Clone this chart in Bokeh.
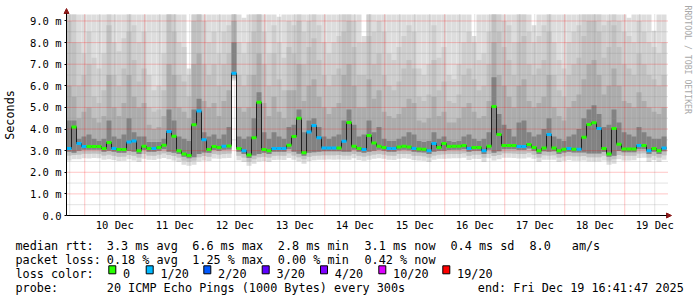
import math
from bokeh.plotting import figure
from bokeh.models import (FixedTicker, Range1d, Label, Arrow, NormalHead)
from bokeh.core.properties import value
from bokeh.embed import file_html
from bokeh.resources import INLINE

# ---- time axis: hours since 9 Dec 00:00 ----
start_h = 16.7      # 9 Dec 16:41:47
end_h = 256.7       # 19 Dec 16:41:47
step_h = 2.0        # consolidated step shown per column

day_labels = ["10 Dec", "11 Dec", "12 Dec", "13 Dec", "14 Dec",
              "15 Dec", "16 Dec", "17 Dec", "18 Dec", "19 Dec"]
y_labels = ["0.0", "1.0 m", "2.0 m", "3.0 m", "4.0 m", "5.0 m",
            "6.0 m", "7.0 m", "8.0 m", "9.0 m"]

# ---- median rtt (ms) per column ----
median_ms = [3.10, 4.10, 3.33, 3.19, 3.19, 3.19, 3.19, 3.10, 3.38, 3.10,
             3.05, 3.05, 3.40, 3.45, 3.00, 3.20, 3.10, 3.10, 3.15, 3.25,
             3.89, 3.67, 3.00, 2.85, 2.78, 4.20, 4.83, 3.50, 3.05, 3.19,
             3.15, 3.20, 3.22, 6.58, 3.10, 3.00, 2.80, 3.60, 5.24, 3.05,
             3.00, 3.10, 3.10, 3.10, 3.25, 3.65, 4.50, 2.90, 3.86, 4.16,
             3.60, 3.12, 3.12, 3.12, 3.12, 3.44, 4.30, 3.20, 3.10, 3.05,
             3.70, 3.35, 3.20, 3.15, 3.10, 3.10, 3.17, 3.20, 3.17, 3.10,
             3.08, 3.06, 3.00, 3.33, 3.15, 3.33, 3.19, 3.20, 3.20, 3.24,
             3.10, 3.15, 3.15, 3.00, 3.20, 5.04, 3.75, 3.24, 3.24, 3.24,
             3.19, 3.19, 3.29, 3.15, 3.00, 3.12, 3.75, 3.12, 3.00, 3.06,
             3.10, 3.06, 3.06, 3.62, 4.21, 4.29, 4.02, 3.10, 2.85, 4.02,
             3.30, 3.08, 3.08, 3.08, 3.24, 3.24, 3.00, 3.10, 3.00, 3.12]

# ---- lost pings per column (out of 20) ----
loss_count = [1, 0, 1, 1, 0, 0, 0, 0, 0, 1,
              0, 0, 1, 1, 0, 0, 0, 1, 0, 0,
              1, 0, 0, 0, 0, 0, 1, 1, 0, 0,
              0, 1, 0, 1, 0, 1, 0, 0, 0, 0,
              0, 1, 1, 1, 0, 0, 0, 0, 1, 1,
              1, 1, 1, 1, 0, 1, 0, 0, 0, 1,
              0, 0, 0, 0, 1, 1, 0, 0, 0, 1,
              0, 0, 1, 1, 0, 0, 0, 0, 0, 0,
              1, 0, 0, 1, 0, 0, 0, 0, 0, 0,
              1, 1, 0, 0, 0, 0, 1, 0, 0, 0,
              1, 0, 1, 0, 0, 0, 1, 0, 0, 0,
              0, 0, 0, 0, 1, 0, 1, 0, 0, 1]

# ---- smoke: lower ping levels (ms) ----
lo1 = [2.55, 2.60, 2.60, 2.65, 2.64, 2.66, 2.65, 2.58, 2.60, 2.57,
       2.52, 2.53, 2.60, 2.55, 2.48, 2.62, 2.58, 2.57, 2.62, 2.66,
       2.60, 2.55, 2.48, 2.35, 2.30, 2.35, 2.50, 2.55, 2.52, 2.64,
       2.62, 2.65, 2.66, 6.25, 2.56, 2.48, 2.30, 2.40, 2.50, 2.52,
       2.48, 2.57, 2.58, 2.57, 2.66, 2.58, 2.50, 2.40, 2.52, 2.56,
       2.58, 2.58, 2.59, 2.58, 2.59, 2.58, 2.58, 2.65, 2.57, 2.53,
       2.58, 2.62, 2.65, 2.62, 2.58, 2.57, 2.63, 2.65, 2.63, 2.57,
       2.55, 2.53, 2.48, 2.58, 2.62, 2.62, 2.64, 2.65, 2.65, 2.67,
       2.57, 2.62, 2.61, 2.48, 2.65, 2.55, 2.60, 2.67, 2.67, 2.66,
       2.64, 2.64, 2.68, 2.62, 2.48, 2.58, 2.58, 2.58, 2.48, 2.53,
       2.57, 2.53, 2.53, 2.55, 2.50, 2.50, 2.50, 2.55, 2.35, 2.40,
       2.60, 2.55, 2.55, 2.56, 2.66, 2.67, 2.48, 2.57, 2.48, 2.58]
lo2 = [2.78, 2.80, 2.82, 2.86, 2.86, 2.87, 2.86, 2.78, 2.82, 2.77,
       2.72, 2.73, 2.80, 2.76, 2.68, 2.84, 2.78, 2.77, 2.82, 2.88,
       2.80, 2.75, 2.68, 2.55, 2.50, 2.55, 2.70, 2.75, 2.72, 2.85,
       2.82, 2.85, 2.87, 6.35, 2.77, 2.68, 2.50, 2.60, 2.70, 2.72,
       2.68, 2.77, 2.78, 2.77, 2.88, 2.78, 2.70, 2.60, 2.72, 2.76,
       2.78, 2.79, 2.79, 2.79, 2.80, 2.78, 2.78, 2.85, 2.77, 2.73,
       2.78, 2.82, 2.85, 2.82, 2.78, 2.77, 2.84, 2.85, 2.84, 2.77,
       2.76, 2.74, 2.68, 2.78, 2.82, 2.83, 2.85, 2.85, 2.85, 2.88,
       2.77, 2.82, 2.82, 2.68, 2.85, 2.75, 2.80, 2.88, 2.88, 2.87,
       2.85, 2.85, 2.90, 2.82, 2.68, 2.79, 2.78, 2.79, 2.68, 2.74,
       2.77, 2.74, 2.74, 2.75, 2.70, 2.70, 2.70, 2.76, 2.55, 2.60,
       2.80, 2.76, 2.76, 2.76, 2.87, 2.88, 2.68, 2.77, 2.68, 2.79]
lo3 = [2.95, 2.90, 3.00, 3.04, 3.04, 3.04, 3.04, 2.95, 3.00, 2.95,
       2.90, 2.90, 2.98, 2.95, 2.85, 3.03, 2.95, 2.95, 3.00, 3.06,
       2.95, 2.90, 2.85, 2.72, 2.65, 2.70, 2.85, 2.92, 2.90, 3.03,
       3.00, 3.04, 3.05, 6.45, 2.95, 2.85, 2.66, 2.78, 2.85, 2.90,
       2.85, 2.95, 2.95, 2.95, 3.06, 2.95, 2.86, 2.76, 2.90, 2.93,
       2.95, 2.97, 2.97, 2.97, 2.97, 2.95, 2.95, 3.04, 2.95, 2.90,
       2.95, 3.00, 3.04, 3.00, 2.95, 2.95, 3.02, 3.04, 3.02, 2.95,
       2.93, 2.91, 2.85, 2.95, 3.00, 3.00, 3.03, 3.04, 3.04, 3.07,
       2.95, 3.00, 3.00, 2.85, 3.04, 2.90, 2.97, 3.07, 3.07, 3.06,
       3.03, 3.03, 3.10, 3.00, 2.85, 2.97, 2.95, 2.97, 2.85, 2.91,
       2.95, 2.91, 2.91, 2.92, 2.87, 2.87, 2.87, 2.94, 2.72, 2.77,
       2.98, 2.93, 2.93, 2.93, 3.06, 3.07, 2.85, 2.95, 2.85, 2.97]

# ---- smoke: upper ping levels (ms) ----
hi1 = [4.4, 4.4, 3.55, 3.65, 3.75, 3.55, 3.45, 3.55, 4.4, 3.65,
       3.55, 3.75, 4.5, 3.85, 3.65, 3.65, 3.4, 3.4, 3.4, 3.55,
       4.9, 4.4, 3.65, 3.55, 3.45, 4.9, 5.4, 3.85, 3.65, 3.75,
       3.55, 3.75, 4.1, 8.0, 3.65, 3.55, 3.65, 4.5, 5.7, 3.85,
       3.55, 3.85, 3.65, 3.55, 4.1, 4.2, 4.9, 3.85, 4.4, 4.5,
       4.1, 3.65, 3.55, 3.65, 3.75, 4.4, 4.9, 4.2, 3.65, 3.75,
       4.4, 3.85, 4.1, 3.55, 3.45, 3.45, 3.55, 3.65, 3.85, 3.75,
       3.45, 3.4, 3.45, 3.85, 3.55, 3.65, 3.45, 3.4, 3.45, 3.65,
       3.75, 3.55, 3.45, 3.55, 3.85, 6.4, 4.7, 4.2, 4.0, 3.65,
       4.3, 4.4, 3.85, 3.65, 3.75, 4.0, 4.5, 3.65, 3.55, 3.45,
       3.65, 3.75, 4.0, 4.5, 4.9, 5.1, 4.7, 4.1, 4.2, 4.9,
       4.3, 3.85, 3.75, 3.65, 4.1, 3.85, 3.65, 3.55, 3.55, 3.65]
hi2 = [6.0, 5.5, 4.5, 4.8, 5.0, 4.5, 4.3, 4.6, 6.5, 5.0,
       4.6, 5.2, 6.5, 5.5, 5.0, 5.2, 4.2, 4.0, 4.1, 4.6,
       7.0, 6.5, 5.0, 4.8, 4.5, 7.0, 7.5, 5.3, 5.0, 5.2,
       4.6, 5.3, 5.8, 9.0, 5.0, 4.8, 5.0, 6.5, 7.5, 5.2,
       4.6, 5.5, 4.8, 4.5, 5.8, 5.8, 7.0, 5.3, 6.0, 6.3,
       5.5, 5.0, 4.7, 5.0, 5.2, 6.5, 7.0, 6.0, 5.0, 5.0,
       6.3, 5.4, 5.8, 4.8, 4.6, 4.5, 4.7, 5.0, 5.4, 5.2,
       4.4, 4.3, 4.5, 5.5, 4.6, 4.8, 4.3, 4.3, 4.5, 5.0,
       5.2, 4.8, 4.5, 4.6, 5.3, 8.0, 6.5, 6.0, 5.5, 5.0,
       6.0, 6.3, 5.3, 5.0, 5.2, 5.5, 6.5, 5.0, 4.6, 4.4,
       5.0, 5.3, 5.6, 6.3, 7.0, 7.2, 6.5, 5.6, 6.0, 6.8,
       6.0, 5.3, 5.2, 5.0, 5.7, 5.3, 5.0, 4.8, 4.7, 5.0]
hi3 = [9.0, 8.0, 6.0, 6.5, 7.0, 5.5, 5.2, 5.8, 8.8, 6.5,
       6.0, 6.8, 8.5, 7.2, 6.2, 6.8, 5.0, 4.8, 4.9, 5.8,
       9.3, 8.5, 6.5, 6.2, 5.5, 9.0, 9.3, 7.0, 6.5, 7.0,
       6.0, 7.0, 7.5, 9.3, 6.5, 6.0, 6.5, 8.5, 9.3, 7.0,
       6.0, 7.5, 6.3, 5.8, 7.8, 7.5, 9.0, 7.0, 7.8, 8.2,
       7.2, 6.5, 6.0, 6.5, 6.8, 8.5, 9.0, 7.8, 6.5, 6.5,
       8.3, 7.0, 7.5, 6.5, 6.0, 5.8, 6.2, 6.8, 7.2, 6.8,
       5.5, 5.3, 5.6, 7.2, 5.8, 6.2, 5.3, 5.2, 5.6, 6.5,
       6.8, 6.3, 5.8, 6.0, 7.0, 9.3, 8.5, 7.8, 7.2, 6.5,
       8.0, 8.3, 7.0, 6.5, 6.8, 7.2, 8.5, 6.5, 5.8, 5.5,
       6.5, 7.0, 7.3, 8.3, 9.0, 9.0, 8.5, 7.3, 7.8, 8.8,
       7.8, 7.0, 6.8, 6.5, 7.5, 7.0, 6.5, 6.3, 6.0, 6.5]
hi4 = [9.3, 9.3, 8.0, 7.5, 8.5, 7.3, 6.8, 7.5, 9.3, 8.0,
       7.6, 8.2, 9.3, 8.8, 8.0, 8.5, 6.5, 5.8, 6.0, 7.5,
       9.3, 9.3, 8.0, 7.8, 6.5, 9.3, 9.3, 9.0, 8.0, 8.5,
       7.5, 8.5, 8.8, 9.3, 8.0, 7.5, 8.0, 9.3, 9.3, 8.5,
       7.5, 8.8, 8.0, 7.3, 9.0, 8.8, 9.3, 8.5, 9.0, 9.3,
       8.8, 8.0, 7.5, 8.0, 8.3, 9.3, 9.3, 9.0, 8.0, 8.0,
       9.3, 8.5, 9.0, 8.5, 7.5, 7.2, 7.8, 8.3, 8.8, 8.5,
       6.8, 6.5, 7.0, 8.8, 7.3, 7.8, 6.5, 6.3, 7.0, 8.0,
       8.5, 8.0, 7.2, 7.5, 8.5, 9.3, 9.3, 9.0, 8.8, 8.0,
       9.3, 9.3, 8.5, 8.0, 8.3, 8.8, 9.3, 8.0, 7.2, 6.8,
       8.0, 8.5, 8.8, 9.3, 9.3, 9.3, 9.3, 8.8, 9.0, 9.3,
       9.0, 8.5, 8.3, 8.0, 9.0, 8.5, 8.0, 7.8, 7.5, 8.0]
top_ms = [9.3, 9.3, 9.3, 9.3, 9.3, 9.3, 9.3, 9.3, 9.3, 9.3,
          9.3, 9.3, 9.3, 9.3, 9.3, 9.3, 9.3, 9.3, 9.3, 9.3,
          9.3, 9.3, 9.3, 9.3, 6.8, 9.3, 9.3, 9.3, 9.3, 9.3,
          9.3, 9.3, 9.3, 9.3, 9.3, 9.15, 9.3, 9.3, 9.3, 9.3,
          9.3, 9.3, 9.2, 9.3, 9.3, 9.3, 9.3, 9.3, 9.3, 9.3,
          9.3, 9.3, 9.3, 9.3, 9.3, 9.3, 9.3, 9.3, 9.3, 8.3,
          9.3, 9.3, 9.3, 9.3, 9.3, 9.3, 9.3, 9.3, 9.3, 9.3,
          9.3, 9.3, 9.3, 9.3, 9.3, 9.3, 9.3, 9.3, 9.3, 9.3,
          9.3, 8.3, 9.3, 9.3, 9.3, 9.3, 9.3, 9.3, 9.3, 9.3,
          9.3, 9.3, 9.3, 8.8, 9.3, 9.3, 9.3, 9.3, 9.3, 9.3,
          9.3, 9.3, 9.3, 9.3, 9.3, 9.3, 9.3, 9.3, 9.3, 9.3,
          9.3, 9.3, 9.15, 9.3, 9.3, 9.3, 9.3, 8.55, 9.3, 9.3]

# ---- legend texts ----
loss_labels = ["0", "1/20", "2/20", "3/20", "4/20", "10/20", "19/20"]
loss_colors = ["#26ff00", "#00b8ff", "#0059ff", "#5e00ff", "#7e00ff", "#dd00ff", "#ff0000"]
rtt_parts = ["median rtt:", "3.3 ms avg", "6.6 ms max", "2.8 ms min", "3.1 ms now",
             "0.4 ms sd", "8.0", "am/s"]
loss_parts = ["packet loss:", "0.18 % avg", "1.25 % max", "0.00 % min", "0.42 % now"]
probe_parts = ["probe:", "20 ICMP Echo Pings (1000 Bytes) every 300s",
               "end: Fri Dec 19 16:41:47 2025"]
loss_title = "loss color:"
watermark = "RRDTOOL / TOBI OETIKER"

# ---- layout constants (canvas pixels) ----
W, H = 697, 297
FL, FR, FT, FB = 66, 666, 14, 215   # data area in canvas pixels
Y_TOP = 9.3
MONO = "DejaVu Sans Mono"
PX_PER_H = (FR - FL) / (end_h - start_h)
PX_PER_MS = (FB - FT) / Y_TOP


def dx(px):
    return start_h + (px - FL) / PX_PER_H


def dy(py):
    return (FB - py) / PX_PER_MS


n = len(median_ms)
left = [start_h + step_h * i for i in range(n)]
right = [x + step_h for x in left]

# one figure whose frame covers the whole canvas; axes are pinned at the data origin
p = figure(width=W, height=H, x_range=Range1d(dx(0), dx(W)), y_range=Range1d(dy(H), dy(0)),
           output_backend="svg", toolbar_location=None, min_border=0)
p.outline_line_color = None
p.background_fill_color = "white"
p.border_fill_color = "white"
p.xgrid.visible = False
p.ygrid.visible = False

# smoke bands (outer to inner)
bands = [(lo1, top_ms, "#dddddd"), (lo2, hi4, "#cecece"), (lo2, hi3, "#c0c0c0"),
         (lo3, hi2, "#acacac"), (lo3, hi1, "#828282")]
for b, t, c in bands:
    p.quad(left=left, right=right, bottom=b, top=t, fill_color=c, line_color=None)

# grid lines limited to the data area
midnights = [24 * d for d in range(1, 11)]
six_hours = [h for h in range(18, 257, 6) if h % 24 != 0]
y_major = list(range(1, 10))
y_minor = [i + 0.5 for i in range(9)]
red_grid = dict(line_color="#ff0000", line_alpha=0.45, line_dash="1 1", line_width=1)
gray_grid = dict(line_color="#909090", line_alpha=0.5, line_dash="1 1", line_width=1)
p.segment(x0=six_hours, x1=six_hours, y0=[0] * len(six_hours), y1=[Y_TOP] * len(six_hours), **gray_grid)
p.segment(x0=[start_h] * 9, x1=[dx(668)] * 9, y0=y_minor, y1=y_minor, **gray_grid)
p.segment(x0=midnights, x1=midnights, y0=[0] * 10, y1=[Y_TOP] * 10, **red_grid)
p.segment(x0=[start_h] * 9, x1=[dx(668)] * 9, y0=y_major, y1=y_major, **red_grid)

# median line
p.step(x=left + [end_h], y=median_ms + [median_ms[-1]], mode="after",
       line_color="#202020", line_width=1)
seg_colors = [loss_colors[l] if l < 3 else loss_colors[3] for l in loss_count]
p.segment(x0=left, x1=right, y0=median_ms, y1=median_ms, line_color=seg_colors, line_width=3)

# axes pinned at the origin of the data area
noon_ticks = [36 + 24 * d for d in range(10)]
p.xaxis.fixed_location = 0
p.xaxis.ticker = FixedTicker(ticks=noon_ticks)
p.xaxis.major_label_overrides = {t: s for t, s in zip(noon_ticks, day_labels)}
p.xaxis.bounds = (start_h, dx(667))
p.yaxis.fixed_location = start_h
p.yaxis.ticker = FixedTicker(ticks=list(range(10)))
p.yaxis.major_label_overrides = {i: s for i, s in enumerate(y_labels)}
p.yaxis.bounds = (0, Y_TOP)
for ax in (p.xaxis[0], p.yaxis[0]):
    ax.axis_line_color = "black"
    ax.major_tick_line_color = "black"
    ax.minor_tick_line_color = None
    ax.major_tick_in = 0
    ax.major_label_text_font = MONO
    ax.major_label_text_font_size = "10.5px"
    ax.major_label_text_color = "black"
p.xaxis.major_tick_out = 0
p.xaxis.major_label_standoff = 3
p.yaxis.major_tick_out = 2
p.yaxis.major_label_standoff = 3
p.yaxis.axis_label = "Seconds"
p.yaxis.axis_label_text_font = MONO
p.yaxis.axis_label_text_font_size = "11.8px"
p.yaxis.axis_label_text_font_style = "normal"
p.yaxis.axis_label_text_color = "black"
p.yaxis.axis_label_standoff = 10

# axis arrows
arrow_col = "#8b1a1a"
p.add_layout(Arrow(end=NormalHead(size=5, fill_color=arrow_col, line_color=arrow_col),
                   x_start=dx(665), y_start=0, x_end=dx(671), y_end=0,
                   line_color="black", line_width=1))
p.add_layout(Arrow(end=NormalHead(size=5, fill_color=arrow_col, line_color=arrow_col),
                   x_start=start_h, y_start=dy(15), x_end=start_h, y_end=dy(8),
                   line_color="black", line_width=1))

# vertical watermark on the right
p.add_layout(Label(x=dx(687.5), y=dy(5), text=watermark, text_font=MONO,
                   text_font_size="8.2px", text_color="#a8a8a8", angle=-math.pi / 2,
                   text_align="left", text_baseline="middle"))

# ---- legend block under the graph (positions in canvas pixels) ----
col_x = [15, 106.3, 191.7, 277.3, 364.0, 450.0, 529.0, 571.3]
txt_x = col_x[:len(rtt_parts)] + col_x[:len(loss_parts)] + [15] + [15, 106.3, 477.3]
txt_y = [245.3] * len(rtt_parts) + [259.3] * len(loss_parts) + [273.3] + [287.3] * 3
txt_s = rtt_parts + loss_parts + [loss_title] + probe_parts

sq_left = [108.3, 145.7, 203.3, 261.7, 320.0, 378.3, 442.3]
txt_x += [x + 14.3 for x in sq_left]
txt_y += [273.3] * len(sq_left)
txt_s += loss_labels

p.text(x=[dx(v) for v in txt_x], y=[dy(v) for v in txt_y], text=txt_s,
       text_font=value(MONO), text_font_size=value("11.8px"),
       text_color="black", text_baseline="alphabetic", text_align="left")
p.quad(left=[dx(v) for v in sq_left], right=[dx(v + 7) for v in sq_left],
       top=[dy(265.3)] * 7, bottom=[dy(273.3)] * 7,
       fill_color=loss_colors, line_color="black", line_width=1)

open("out.html", "w").write(file_html(p, INLINE))
